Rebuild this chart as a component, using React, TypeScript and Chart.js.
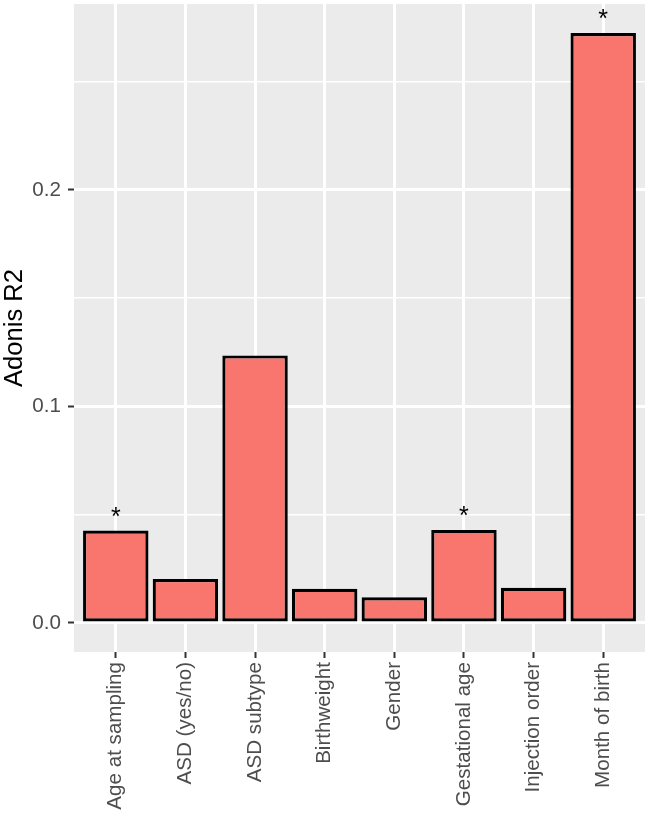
import React, { useEffect, useRef } from "react";
import { Chart, registerables } from "chart.js";

Chart.register(...registerables);

const categories = [
  "Age at sampling",
  "ASD (yes/no)",
  "ASD subtype",
  "Birthweight",
  "Gender",
  "Gestational age",
  "Injection order",
  "Month of birth",
];
const r2Values = [0.0427, 0.0203, 0.1236, 0.0158, 0.0119, 0.0430, 0.0163, 0.2725];
const significance = ["*", "", "", "", "", "*", "", "*"];
const yMajorTicks = [0, 0.1, 0.2];
const yMinorTicks = [0.05, 0.15, 0.25];
const yMin = -0.0134;
const yMax = 0.2859;

const FONT = "'Liberation Sans', Arial, Helvetica, sans-serif";

export default function App() {
  const ref = useRef<HTMLCanvasElement | null>(null);

  useEffect(() => {
    document.body.style.margin = "0";
    const canvas = ref.current;
    if (!canvas) return;

    const panelBg = {
      id: "panelBg",
      beforeDraw(chart: any) {
        const { ctx, chartArea } = chart;
        ctx.save();
        ctx.fillStyle = "#EBEBEB";
        ctx.fillRect(chartArea.left, chartArea.top, chartArea.right - chartArea.left, chartArea.bottom - chartArea.top);
        ctx.restore();
      },
    };

    const stars = {
      id: "stars",
      afterDatasetsDraw(chart: any) {
        const { ctx } = chart;
        const xs = chart.scales.x;
        const ys = chart.scales.y;
        ctx.save();
        ctx.fillStyle = "#000000";
        ctx.font = `25px ${FONT}`;
        ctx.textAlign = "center";
        ctx.textBaseline = "alphabetic";
        significance.forEach((s, i) => {
          if (!s) return;
          const x = xs.getPixelForValue(i + 1);
          const y = ys.getPixelForValue(r2Values[i]);
          ctx.fillText(s, x, y - 6);
        });
        ctx.restore();
      },
    };

    const isMajor = (v: number) => yMajorTicks.some((t) => Math.abs(t - v) < 1e-9);

    const chart = new Chart(canvas, {
      type: "bar",
      data: {
        datasets: [
          {
            data: r2Values.map((v, i) => ({ x: i + 1, y: v })),
            backgroundColor: "#F8766D",
            borderColor: "#000000",
            borderWidth: 3.2,
            borderSkipped: false,
            barPercentage: 0.94,
            categoryPercentage: 1,
          },
        ],
      },
      options: {
        responsive: false,
        animation: false,
        layout: { padding: { top: 4, right: 5, left: 0, bottom: 0 } },
        plugins: { legend: { display: false }, tooltip: { enabled: false } },
        scales: {
          x: {
            type: "linear",
            min: 0.4,
            max: 8.6,
            offset: false,
            afterBuildTicks(scale: any) {
              scale.ticks = categories.map((_, i) => ({ value: i + 1 }));
            },
            afterFit(scale: any) {
              scale.height = 161;
              scale.paddingLeft = 0;
              scale.paddingRight = 0;
            },
            border: { display: false },
            grid: {
              offset: false,
              color: "#FFFFFF",
              lineWidth: 3,
              tickColor: "#333333",
              tickWidth: 2,
              tickLength: 6,
            },
            ticks: {
              autoSkip: false,
              minRotation: 90,
              maxRotation: 90,
              padding: 4,
              color: "#4D4D4D",
              font: { family: FONT, size: 20.6 },
              callback: (v: any) => categories[Math.round(Number(v)) - 1] ?? "",
            },
          },
          y: {
            type: "linear",
            min: yMin,
            max: yMax,
            afterBuildTicks(scale: any) {
              scale.ticks = [...yMajorTicks, ...yMinorTicks]
                .sort((a, b) => a - b)
                .map((v) => ({ value: v }));
            },
            afterFit(scale: any) {
              scale.width = 74;
              scale.paddingTop = 0;
              scale.paddingBottom = 0;
            },
            border: { display: false },
            grid: {
              color: "#FFFFFF",
              lineWidth: (c: any) => (isMajor(c.tick?.value) ? 3 : 1.5),
              tickColor: (c: any) => (isMajor(c.tick?.value) ? "#333333" : "rgba(0,0,0,0)"),
              tickWidth: 2,
              tickLength: 6,
            },
            ticks: {
              autoSkip: false,
              padding: 7,
              color: "#4D4D4D",
              font: { family: FONT, size: 20.6 },
              callback: (v: any) => (isMajor(Number(v)) ? Number(v).toFixed(1) : ""),
            },
            title: {
              display: true,
              text: "Adonis R2",
              color: "#000000",
              font: { family: FONT, size: 25.6 },
              padding: { top: 0, bottom: 0 },
            },
          },
        },
      },
      plugins: [panelBg, stars],
    });

    return () => chart.destroy();
  }, []);

  return (
    <div style={{ width: 650, height: 813 }}>
      <canvas ref={ref} width={650} height={813} style={{ display: "block" }} />
    </div>
  );
}
